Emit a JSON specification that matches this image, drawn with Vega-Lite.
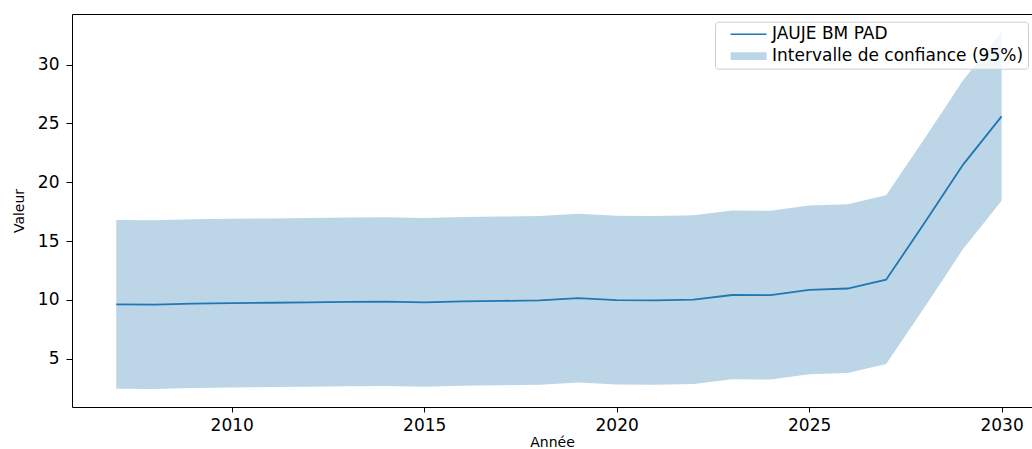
{
  "$schema": "https://vega.github.io/schema/vega-lite/v6.json",
  "width": 960,
  "height": 393,
  "autosize": {"type": "none"},
  "padding": {"left": 72, "top": 14, "right": 0, "bottom": 42},
  "background": "white",
  "config": {
    "font": "DejaVu Sans",
    "view": {"stroke": null},
    "axis": {"grid": false, "domainColor": "black", "domainWidth": 1, "tickColor": "black", "tickWidth": 1, "labelColor": "black", "titleColor": "black", "labelFont": "DejaVu Sans", "titleFont": "DejaVu Sans", "labelFontSize": 17, "titleFontSize": 14, "titleFontWeight": "normal"}
  },
  "data": {"values": [
    {"annee": 2007, "valeur": 9.63, "bas": 2.46, "haut": 16.80},
    {"annee": 2008, "valeur": 9.60, "bas": 2.43, "haut": 16.77},
    {"annee": 2009, "valeur": 9.68, "bas": 2.51, "haut": 16.85},
    {"annee": 2010, "valeur": 9.72, "bas": 2.55, "haut": 16.89},
    {"annee": 2011, "valeur": 9.76, "bas": 2.59, "haut": 16.93},
    {"annee": 2012, "valeur": 9.80, "bas": 2.63, "haut": 16.97},
    {"annee": 2013, "valeur": 9.84, "bas": 2.67, "haut": 17.01},
    {"annee": 2014, "valeur": 9.86, "bas": 2.69, "haut": 17.03},
    {"annee": 2015, "valeur": 9.80, "bas": 2.63, "haut": 16.97},
    {"annee": 2016, "valeur": 9.88, "bas": 2.71, "haut": 17.05},
    {"annee": 2017, "valeur": 9.92, "bas": 2.75, "haut": 17.09},
    {"annee": 2018, "valeur": 9.96, "bas": 2.79, "haut": 17.13},
    {"annee": 2019, "valeur": 10.15, "bas": 2.98, "haut": 17.32},
    {"annee": 2020, "valeur": 9.98, "bas": 2.81, "haut": 17.15},
    {"annee": 2021, "valeur": 9.96, "bas": 2.79, "haut": 17.13},
    {"annee": 2022, "valeur": 10.02, "bas": 2.85, "haut": 17.19},
    {"annee": 2023, "valeur": 10.42, "bas": 3.25, "haut": 17.59},
    {"annee": 2024, "valeur": 10.40, "bas": 3.23, "haut": 17.57},
    {"annee": 2025, "valeur": 10.85, "bas": 3.68, "haut": 18.02},
    {"annee": 2026, "valeur": 10.97, "bas": 3.80, "haut": 18.14},
    {"annee": 2027, "valeur": 11.72, "bas": 4.55, "haut": 18.89},
    {"annee": 2028, "valeur": 16.55, "bas": 9.38, "haut": 23.72},
    {"annee": 2029, "valeur": 21.50, "bas": 14.33, "haut": 28.67},
    {"annee": 2030, "valeur": 25.60, "bas": 18.43, "haut": 32.77}
  ]},
  "resolve": {"axis": {"x": "independent"}},
  "layer": [
    {
      "mark": {"type": "area", "color": "#bcd6e8", "opacity": 1},
      "encoding": {
        "x": {"field": "annee", "type": "quantitative", "scale": {"domain": [2005.85, 2030.79], "nice": false, "zero": false},
          "axis": {"orient": "bottom", "title": "Année", "values": [2010, 2015, 2020, 2025, 2030], "format": "d", "tickSize": 5, "labelPadding": 18, "labelBaseline": "alphabetic", "titleY": 39.5, "titleBaseline": "alphabetic"}},
        "y": {"field": "bas", "type": "quantitative", "scale": {"domain": [0.9, 34.3], "nice": false, "zero": false},
          "axis": {"title": "Valeur", "values": [5, 10, 15, 20, 25, 30], "tickSize": 6, "labelPadding": 7, "titleX": -48.5, "titleAngle": -90, "titleBaseline": "alphabetic"}},
        "y2": {"field": "haut"}
      }
    },
    {
      "mark": {"type": "line", "color": "#1f77b4", "strokeWidth": 1.8},
      "encoding": {
        "x": {"field": "annee", "type": "quantitative", "axis": {"orient": "top", "title": null, "labels": false, "ticks": false, "domain": true}},
        "y": {"field": "valeur", "type": "quantitative"}
      }
    },
    {
      "mark": {"type": "point", "filled": true, "opacity": 0},
      "encoding": {
        "x": {"field": "annee", "type": "quantitative", "axis": null},
        "y": {"field": "valeur", "type": "quantitative"},
        "color": {"datum": "JAUJE BM PAD", "type": "nominal",
          "scale": {"domain": ["JAUJE BM PAD", "Intervalle de confiance (95%)"], "range": ["#1f77b4", "#bcd6e8"]},
          "legend": {"title": null, "orient": "none", "legendX": 643, "legendY": 7.7, "padding": 4, "symbolSize": 196, "labelOffset": 36, "labelLimit": 600, "rowPadding": 4, "labelFontSize": 17, "labelFont": "DejaVu Sans", "labelColor": "black", "fillColor": "rgba(255,255,255,0.8)", "strokeColor": "#d0d0d0", "cornerRadius": 3, "symbolOpacity": 1, "symbolStrokeWidth": 0}},
        "shape": {"datum": "JAUJE BM PAD", "type": "nominal",
          "scale": {"domain": ["JAUJE BM PAD", "Intervalle de confiance (95%)"], "range": ["M0.429,-0.11L5.571,-0.11L5.571,0.11L0.429,0.11Z", "M0.429,-0.55L5.571,-0.55L5.571,0.55L0.429,0.55Z"]},
          "legend": {"title": null, "orient": "none", "legendX": 643, "legendY": 7.7, "padding": 4, "symbolSize": 196, "labelOffset": 36, "labelLimit": 600, "rowPadding": 4, "labelFontSize": 17, "labelFont": "DejaVu Sans", "labelColor": "black", "fillColor": "rgba(255,255,255,0.8)", "strokeColor": "#d0d0d0", "cornerRadius": 3, "symbolOpacity": 1, "symbolStrokeWidth": 0}}
      }
    }
  ]
}
